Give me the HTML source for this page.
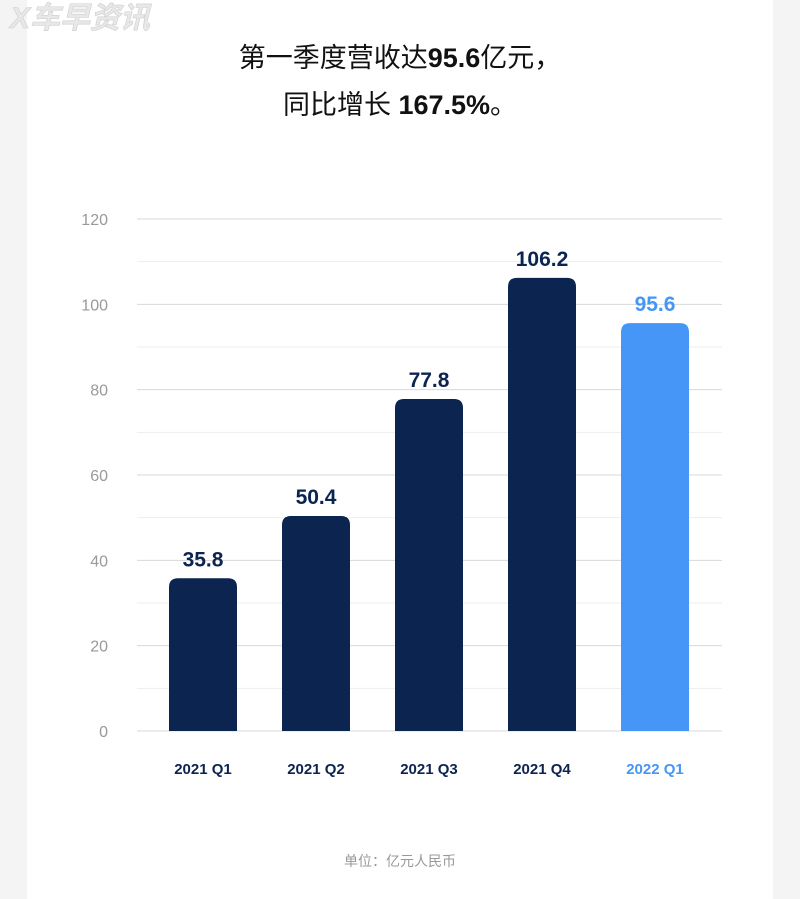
<!DOCTYPE html>
<html><head><meta charset="utf-8"><style>
body{margin:0;width:800px;height:899px;background:#f4f4f4;overflow:hidden;font-family:"Liberation Sans","Noto Sans CJK SC",sans-serif}
#card{position:absolute;left:27px;top:0;width:746px;height:899px;background:#fff}
</style></head><body>
<div id="card"></div>
<svg width="800" height="899" style="position:absolute;left:0;top:0">
<text x="10" y="28" font-size="30" font-weight="bold" fill="#e8e8e8" stroke="#cfcfcf" stroke-width="0.6" font-style="italic">X车早资讯</text>
<text x="400" y="67" text-anchor="middle" font-size="27" fill="#111">第一季度营收达<tspan font-weight="bold">95.6</tspan>亿元，</text>
<text x="400" y="114" text-anchor="middle" font-size="27" fill="#111">同比增长 <tspan font-weight="bold">167.5%</tspan>。</text>
<g id="grid"></g><g id="bars"></g>
<text x="400" y="866" text-anchor="middle" font-size="14" fill="#999">单位：亿元人民币</text>
</svg>
<script>
const categories=["2021 Q1","2021 Q2","2021 Q3","2021 Q4","2022 Q1"];
const values=[35.8,50.4,77.8,106.2,95.6];
const valueLabels=["35.8","50.4","77.8","106.2","95.6"];
const yTicks=[0,20,40,60,80,100,120];
const NS="http://www.w3.org/2000/svg";
const x0=137,x1=722,yBase=731,yTop=219,yMax=120;
const y=v=>yBase-(v/yMax)*(yBase-yTop);
const band=113,bandStart=146.5;
const xc=i=>bandStart+band*(i+0.5);
function mk(t,a,p){const e=document.createElementNS(NS,t);for(const k in a)e.setAttribute(k,a[k]);p.appendChild(e);return e;}
const g=document.getElementById('grid'),b=document.getElementById('bars');
for(let v=0;v<=yMax;v+=10){
 const l=mk('line',{x1:x0,x2:x1,y1:y(v),y2:y(v),stroke:v%20===0?'#d8d8d8':'#eeeeee','stroke-width':1},g);
 
 
}
yTicks.forEach(v=>{
 const t=mk('text',{x:108,y:y(v)+6,'text-anchor':'end','font-size':16,fill:'#999'},g);
 t.textContent=v;
 
 
});
const w=68,r=9;
values.forEach((v,i)=>{
 const col=i===4?'#4596f6':'#0b2450';
 const L=xc(i)-w/2,R=xc(i)+w/2,T=y(v);
 const p=mk('path',{d:`M${L},${yBase}V${T+r}Q${L},${T} ${L+r},${T}H${R-r}Q${R},${T} ${R},${T+r}V${yBase}Z`,fill:col},b);
 
 
 const t=mk('text',{x:xc(i),y:T-12,'text-anchor':'middle','font-size':21,'font-weight':'bold',fill:col},b);
 t.textContent=valueLabels[i];
 
 
 const c=mk('text',{x:xc(i),y:774,'text-anchor':'middle','font-size':15,'font-weight':'bold',fill:i===4?'#4596f6':'#0b2450'},b);
 c.textContent=categories[i];
 
 
});
</script>
</body></html>
